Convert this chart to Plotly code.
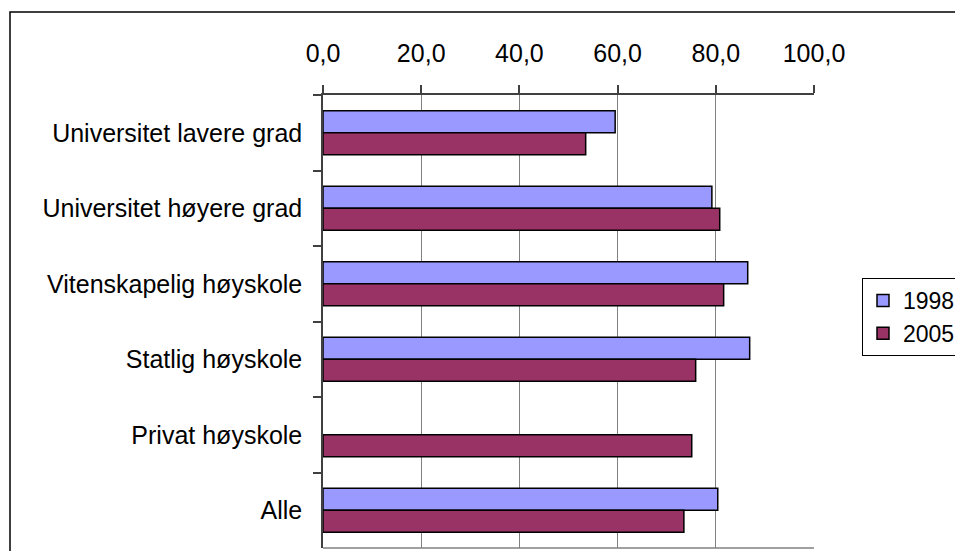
import plotly.graph_objects as go

categories = ["Universitet lavere grad", "Universitet høyere grad", "Vitenskapelig høyskole",
              "Statlig høyskole", "Privat høyskole", "Alle"]
values_1998 = [59.5, 79.2, 86.5, 86.9, None, 80.4]
values_2005 = [53.5, 80.8, 81.6, 75.9, 75.1, 73.5]
x_ticks = [0, 20, 40, 60, 80, 100]

OFF = 8  # page offset of the figure inside the window
W, H = 963 - 2 * OFF, 559 - 2 * OFF
L, R, T, B = 323 - OFF, 814 - OFF, 95 - OFF, 548 - OFF

def px_x(p):
    return (p - OFF - L) / (R - L)

def px_y(p):
    return (B - (p - OFF)) / (B - T)

fig = go.Figure()
fig.add_trace(go.Bar(name="1998", y=categories, x=values_1998, orientation="h",
                     marker=dict(color="#9999FF", line=dict(color="#000000", width=1.5))))
fig.add_trace(go.Bar(name="2005", y=categories, x=values_2005, orientation="h",
                     marker=dict(color="#993366", line=dict(color="#000000", width=1.5))))

fig.update_layout(
    width=W, height=H,
    margin=dict(l=L, r=W - R, t=T, b=H - B, pad=0, autoexpand=False),
    paper_bgcolor="white", plot_bgcolor="white",
    barmode="group", bargap=0.42, bargroupgap=0,
    separators=",.",
    font=dict(family="Liberation Sans, Arial, sans-serif", size=25, color="#000000"),
    showlegend=True,
    legend=dict(x=px_x(862), y=px_y(278), xanchor="left", yanchor="top",
                bgcolor="white", bordercolor="#000000", borderwidth=1,
                font=dict(size=23), tracegroupgap=0),
    xaxis=dict(side="top", range=[0, 100], tickvals=x_ticks, tickformat=".1f",
               showgrid=True, gridcolor="#808080", gridwidth=1,
               showline=True, linecolor="#404040", linewidth=1.5,
               ticks="outside", ticklen=8, tickcolor="#404040", tickwidth=1.5,
               zeroline=False, ticklabelstandoff=13, fixedrange=True, automargin=False),
    yaxis=dict(autorange="reversed", type="category", tickson="boundaries",
               showline=True, linecolor="#404040", linewidth=1.5,
               ticks="outside", ticklen=8, tickcolor="#404040", tickwidth=1.5,
               showgrid=False, zeroline=False, ticklabelstandoff=14, fixedrange=True,
               automargin=False),
    shapes=[
        dict(type="line", xref="paper", yref="paper", x0=0, x1=1, y0=0, y1=0,
             line=dict(color="#808080", width=1.5)),
        dict(type="rect", xref="paper", yref="paper",
             x0=px_x(10), x1=px_x(990), y0=px_y(12), y1=px_y(590),
             line=dict(color="#000000", width=1.5), fillcolor="rgba(0,0,0,0)"),
    ],
)

fig.write_html("out.html")
